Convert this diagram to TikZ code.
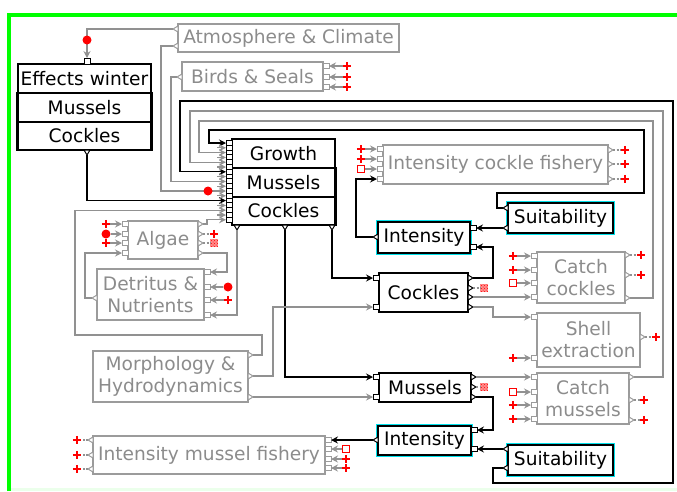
\documentclass[tikz,border=0pt]{standalone}
\usepackage{fontspec}
\setmainfont{DejaVu Sans}
\usetikzlibrary{arrows.meta,patterns}
\definecolor{gtxt}{RGB}{140,140,140}
\definecolor{gline}{RGB}{145,145,145}
\definecolor{gbrd}{RGB}{155,155,155}
\definecolor{grn}{RGB}{0,255,0}
\definecolor{cyn}{RGB}{0,225,235}
\definecolor{rd}{RGB}{255,0,0}
\newcommand\bx[7]{%
 \pgfmathsetmacro\bw{#5-#3}\pgfmathsetmacro\bh{#6-#4}%
 \pgfmathsetmacro\bcx{(#3+#5)/2}\pgfmathsetmacro\bcy{(#4+#6)/2}%
 \node[#2, minimum width=\bw pt, minimum height=\bh pt] (#1) at (\bcx,\bcy) {#7};}
\newcommand\pSqL[4]{\draw[draw=#1, line width=1, fill=white] (#2-6,#3-2.5) rectangle (#2,#3+2.5); \coordinate (#4) at (#2-6,#3);}
\newcommand\pSqR[4]{\draw[draw=#1, line width=1, fill=white] (#2,#3-2.5) rectangle (#2+6,#3+2.5); \coordinate (#4) at (#2+6,#3);}
\newcommand\pTrR[4]{\draw[draw=#1, line width=1, fill=white] (#2,#3-3) -- (#2+5,#3) -- (#2,#3+3) -- cycle; \coordinate (#4) at (#2+5,#3);}
\newcommand\pTrL[4]{\draw[draw=#1, line width=1, fill=white] (#2,#3-3) -- (#2-5,#3) -- (#2,#3+3) -- cycle; \coordinate (#4) at (#2-5,#3);}
\newcommand\pTrD[4]{\draw[draw=#1, line width=1, fill=white] (#2-3,#3) -- (#2,#3+5) -- (#2+3,#3) -- cycle; \coordinate (#4) at (#2,#3+5);}
\newcommand\pSqT[4]{\draw[draw=#1, line width=1, fill=white] (#2-3,#3-6) rectangle (#2+3,#3); \coordinate (#4) at (#2,#3-6);}
\tikzset{
 lbl/.style={font=\fontsize{18.6}{22}\selectfont},
 bbox/.style={draw=black, line width=1.4, fill=white, text=black, inner sep=0pt, align=center, lbl},
 gbox/.style={draw=gbrd, line width=1.3, fill=white, text=gtxt, inner sep=0pt, align=center, lbl},
 cbox/.style={bbox, line width=1.7, preaction={draw=cyn, line width=4.4pt}},
 wb/.style={draw=black, line width=1.3, -{Stealth[length=7pt,width=7pt,inset=2.5pt]}},
 wg/.style={draw=gline, line width=1.3, -{Stealth[length=7pt,width=7pt,inset=2.5pt]}},
 gd/.style={draw=gline, line width=1.2, dash pattern=on 2pt off 1.5pt},
 rplus/.style={inner sep=0pt, minimum size=8.5pt, path picture={\draw[rd, line width=1.8] (path picture bounding box.north) -- (path picture bounding box.south) (path picture bounding box.west) -- (path picture bounding box.east);}},
 rdot/.style={circle, fill=rd, inner sep=0pt, minimum size=9pt},
 rsq/.style={draw=rd, line width=1.4, fill=white, inner sep=0pt, minimum size=7pt},
 rhatch/.style={inner sep=0pt, minimum size=7.5pt, preaction={fill=rd!45}, pattern=crosshatch dots, pattern color=rd},
}
\begin{document}
\begin{tikzpicture}[x=1pt,y=-1pt]
\useasboundingbox (0,0) rectangle (677,491);
\fill[white] (0,0) rectangle (677,491);
\draw[grn, line width=4] (8.8,491) -- (8.8,14.5) -- (677,14.5);
\draw[green!8, line width=2.5] (11,489.5) -- (677,489.5);

% ---------- boxes ----------
\bx{atm}{gbox}{178}{24}{399}{52}{Atmosphere \& Climate}
\bx{birds}{gbox}{182}{62}{323}{91}{Birds \& Seals}
\bx{effw}{bbox}{18}{64}{151}{93}{Effects winter}
\bx{emus}{bbox}{18}{93}{151}{122}{Mussels}
\bx{ecoc}{bbox}{18}{122}{151}{150}{Cockles}
\draw[line width=2.4] (emus.north west) -- (ecoc.south west) (emus.north east) -- (ecoc.south east);
\bx{grow}{bbox}{232}{139}{335}{168}{Growth}
\bx{gmus}{bbox}{232}{168}{335}{197}{Mussels}
\bx{gcoc}{bbox}{232}{197}{335}{225}{Cockles}
\draw[line width=2.4] (gmus.north east) -- (gcoc.south east);
\bx{icf}{gbox}{383}{145}{608}{184}{Intensity cockle fishery}
\bx{suitc}{cbox}{508}{203}{613}{233}{Suitability}
\bx{intc}{cbox}{378}{222}{470}{253}{Intensity}
\bx{algae}{gbox}{128}{221}{198}{259}{Algae}
\bx{detr}{gbox}{97}{269}{204}{320}{Detritus \&\\Nutrients}
\bx{coc}{bbox}{379}{273}{468}{312}{Cockles}
\bx{catchc}{gbox}{537}{252}{625}{303}{Catch\\cockles}
\bx{shell}{gbox}{537}{313}{640}{367}{Shell\\extraction}
\bx{morph}{gbox}{93}{351}{248}{402}{Morphology \&\\Hydrodynamics}
\bx{mus}{bbox}{379}{373}{471}{402}{Mussels}
\bx{catchm}{gbox}{537}{373}{629}{424}{Catch\\mussels}
\bx{intm}{cbox}{378}{426}{471}{455}{Intensity}
\bx{suitm}{cbox}{508}{445}{613}{475}{Suitability}
\bx{imf}{gbox}{93}{436}{325}{474}{Intensity mussel fishery}

% ---------- ports ----------
\pSqT{black}{87}{64}{ew-in}
\pTrD{black}{87}{150}{ew-out}
\pTrL{gbrd}{178}{29}{atm-o1}
\pTrL{gbrd}{178}{46}{atm-o2}
\pTrL{gbrd}{182}{77}{bs-o1}
\pSqR{gbrd}{323}{66}{bs-i1}
\pSqR{gbrd}{323}{77}{bs-i2}
\pSqR{gbrd}{323}{87}{bs-i3}
\foreach \i in {0,...,16}{\pgfmathsetmacro\yy{143+4.8*\i}\pSqL{black}{232}{\yy}{gi\i}}
\pTrD{black}{237}{225}{g-o1}
\pTrD{black}{285}{225}{g-o2}
\pTrD{black}{332}{225}{g-o3}
\pSqL{gbrd}{128}{224}{al-i1}
\pSqL{gbrd}{128}{234}{al-i2}
\pSqL{gbrd}{128}{243}{al-i3}
\pSqL{gbrd}{128}{253}{al-i4}
\pTrR{gbrd}{198}{224}{al-o1}
\pTrR{gbrd}{198}{234}{al-o2}
\pTrR{gbrd}{198}{243}{al-o3}
\pTrR{gbrd}{198}{253}{al-o4}
\pSqR{gbrd}{204}{272}{dn-i1}
\pSqR{gbrd}{204}{287}{dn-i2}
\pSqR{gbrd}{204}{300}{dn-i3}
\pSqR{gbrd}{204}{315}{dn-i4}
\pTrL{gbrd}{97}{298}{dn-o}
\pSqL{gbrd}{383}{149}{icf-i1}
\pSqL{gbrd}{383}{159}{icf-i2}
\pSqL{gbrd}{383}{169}{icf-i3}
\pSqL{gbrd}{383}{179}{icf-i4}
\pTrR{gbrd}{608}{150}{icf-o1}
\pTrR{gbrd}{608}{164}{icf-o2}
\pTrR{gbrd}{608}{179}{icf-o3}
\pTrL{black}{508}{208}{sc-o1}
\pTrL{black}{508}{228}{sc-o2}
\pSqR{black}{470}{228}{ic-i1}
\pSqR{black}{470}{247}{ic-i2}
\pTrL{black}{378}{237}{ic-o}
\pSqL{black}{379}{278}{c-i1}
\pSqL{black}{379}{307}{c-i2}
\pTrR{black}{468}{278}{c-o1}
\pTrR{black}{468}{288}{c-o2}
\pTrR{black}{468}{297}{c-o3}
\pTrR{black}{468}{307}{c-o4}
\pSqL{gbrd}{537}{256}{cc-i1}
\pSqL{gbrd}{537}{270}{cc-i2}
\pSqL{gbrd}{537}{283}{cc-i3}
\pSqL{gbrd}{537}{297}{cc-i4}
\pTrR{gbrd}{625}{255}{cc-o1}
\pTrR{gbrd}{625}{275}{cc-o2}
\pTrR{gbrd}{625}{298}{cc-o3}
\pSqL{gbrd}{537}{317}{sh-i1}
\pSqL{gbrd}{537}{358}{sh-i2}
\pTrR{gbrd}{640}{337}{sh-o}
\pTrR{gbrd}{248}{355}{mh-o1}
\pTrR{gbrd}{248}{376}{mh-o2}
\pTrR{gbrd}{248}{397}{mh-o3}
\pSqL{black}{379}{377}{m-i1}
\pSqL{black}{379}{397}{m-i2}
\pTrR{black}{471}{377}{m-o1}
\pTrR{black}{471}{387}{m-o2}
\pTrR{black}{471}{397}{m-o3}
\pSqL{gbrd}{537}{377}{cm-i1}
\pSqL{gbrd}{537}{392}{cm-i2}
\pSqL{gbrd}{537}{405}{cm-i3}
\pSqL{gbrd}{537}{419}{cm-i4}
\pTrR{gbrd}{629}{377}{cm-o1}
\pTrR{gbrd}{629}{400}{cm-o2}
\pTrR{gbrd}{629}{420}{cm-o3}
\pSqR{black}{471}{430}{im-i1}
\pSqR{black}{471}{449}{im-i2}
\pTrL{black}{378}{440}{im-o}
\pTrL{black}{508}{449}{sm-o1}
\pTrL{black}{508}{468}{sm-o2}
\pSqR{gbrd}{325}{440}{mf-i1}
\pSqR{gbrd}{325}{449}{mf-i2}
\pSqR{gbrd}{325}{459}{mf-i3}
\pSqR{gbrd}{325}{468}{mf-i4}
\pTrL{gbrd}{93}{440}{mf-o1}
\pTrL{gbrd}{93}{455}{mf-o2}
\pTrL{gbrd}{93}{469}{mf-o3}

% ---------- wires ----------
\draw[wg] (atm-o1) -- (87,29) -- (ew-in);
\draw[wg] (atm-o2) -- (161,46) |- (gi10);
\draw[wg] (bs-o1) -- (171,77) |- (gi8);
\draw[wb] (sc-o1) -- (497,208) -- (497,193) -- (644,193) -- (644,130) -- (209,130) |- (gi0);
\draw[wg] (cc-o3) -- (653,298) -- (653,121) -- (199,121) |- (gi2);
\draw[wg] (cm-o1) -- (663,377) -- (663,111) -- (190,111) |- (gi4);
\draw[wb] (sm-o2) -- (493,468) -- (493,483) -- (673,483) -- (673,101) -- (180,101) |- (gi6);
\draw[wb] (ew-out) |- (gi12);
\draw[wg] (mh-o1) -- (262,355) -- (262,335) -- (75,335) |- (gi14);
\draw[wg] (al-o1) -- (207,224) |- (gi16);
\foreach \i in {1,3,...,15}{\draw[wg] ([xshift=-9pt]gi\i) -- (gi\i);}
\draw[wg] (g-o1) |- (dn-i4);
\draw[wb] (g-o2) |- (m-i1);
\draw[wb] (g-o3) |- (c-i1);
\draw[wg] (al-o4) -- (227,253) |- (dn-i1);
\draw[wg] (dn-o) -- (85,298) |- (al-i4);
\draw[wb] (ic-o) -- (356,237) |- (icf-i4);
\draw[wb] (sc-o2) -- (ic-i1);
\draw[wb] (c-o1) -- (493,278) |- (ic-i2);
\draw[wg] (c-o3) -- (cc-i4);
\draw[wg] (c-o4) -- (493,307) |- (sh-i1);
\draw[wg] (mh-o2) -- (273,376) |- (c-i2);
\draw[wg] (mh-o3) -- (m-i2);
\draw[wg] (m-o1) -- (cm-i1);
\draw[wb] (m-o3) -- (493,397) |- (im-i1);
\draw[wb] (sm-o1) -- (im-i2);
\draw[wb] (im-o) -- (mf-i1);

\node[rdot] (dotA) at (87,40) {};
\node[rdot] (dotB) at (208,191) {};

% ---------- markers ----------
\node[rplus] (bp1) at (347,66) {};
\node[rplus] (bp2) at (347,77) {};
\node[rplus] (bp3) at (347,87) {};
\draw[wg] (bp1.west) -- (bs-i1);
\draw[wg] (bp2.west) -- (bs-i2);
\draw[wg] (bp3.west) -- (bs-i3);

\node[rplus] (ap1) at (106,224) {};
\node[rdot] (ap2) at (106,234) {};
\node[rplus] (ap3) at (106,243) {};
\draw[wg] (ap1.east) -- (al-i1);
\draw[wg] (ap2.east) -- (al-i2);
\draw[wg] (ap3.east) -- (al-i3);
\node[rplus] (ao2) at (214,234) {};
\node[rhatch] (ao3) at (214,243) {};
\draw[gd] (al-o2) -- (ao2.west);
\draw[gd] (al-o3) -- (ao3.west);

\node[rdot] (dp2) at (228,287) {};
\node[rplus] (dp3) at (228,300) {};
\draw[wg] (dp2.west) -- (dn-i2);
\draw[wg] (dp3.west) -- (dn-i3);

\node[rplus] (fp1) at (361,149) {};
\node[rplus] (fp2) at (361,159) {};
\node[rsq] (fp3) at (361,169) {};
\draw[wg] (fp1.east) -- (icf-i1);
\draw[wg] (fp2.east) -- (icf-i2);
\draw[wg] (fp3.east) -- (icf-i3);
\node[rplus] (fo1) at (625,150) {};
\node[rplus] (fo2) at (625,164) {};
\node[rplus] (fo3) at (625,179) {};
\draw[gd] (icf-o1) -- (fo1.west);
\draw[gd] (icf-o2) -- (fo2.west);
\draw[gd] (icf-o3) -- (fo3.west);

\node[rhatch] (co2) at (484,288) {};
\draw[gd] (c-o2) -- (co2.west);

\node[rplus] (kp1) at (513,256) {};
\node[rplus] (kp2) at (513,270) {};
\node[rsq] (kp3) at (513,283) {};
\draw[wg] (kp1.east) -- (cc-i1);
\draw[wg] (kp2.east) -- (cc-i2);
\draw[wg] (kp3.east) -- (cc-i3);
\node[rplus] (ko1) at (641,255) {};
\node[rplus] (ko2) at (641,275) {};
\draw[gd] (cc-o1) -- (ko1.west);
\draw[gd] (cc-o2) -- (ko2.west);

\node[rplus] (sp2) at (513,358) {};
\draw[wg] (sp2.east) -- (sh-i2);
\node[rplus] (so) at (656,337) {};
\draw[gd] (sh-o) -- (so.west);

\node[rhatch] (mo2) at (484,387) {};
\draw[gd] (m-o2) -- (mo2.west);

\node[rsq] (np2) at (513,392) {};
\node[rplus] (np3) at (513,405) {};
\node[rplus] (np4) at (513,419) {};
\draw[wg] (np2.east) -- (cm-i2);
\draw[wg] (np3.east) -- (cm-i3);
\draw[wg] (np4.east) -- (cm-i4);
\node[rplus] (no2) at (644,400) {};
\node[rplus] (no3) at (644,420) {};
\draw[gd] (cm-o2) -- (no2.west);
\draw[gd] (cm-o3) -- (no3.west);

\node[rsq] (qp2) at (346,449) {};
\node[rplus] (qp3) at (346,459) {};
\node[rplus] (qp4) at (346,468) {};
\draw[wg] (qp2.west) -- (mf-i2);
\draw[wg] (qp3.west) -- (mf-i3);
\draw[wg] (qp4.west) -- (mf-i4);
\node[rplus] (qo1) at (77,440) {};
\node[rplus] (qo2) at (77,455) {};
\node[rplus] (qo3) at (77,469) {};
\draw[gd] (mf-o1) -- (qo1.east);
\draw[gd] (mf-o2) -- (qo2.east);
\draw[gd] (mf-o3) -- (qo3.east);
\end{tikzpicture}
\end{document}
